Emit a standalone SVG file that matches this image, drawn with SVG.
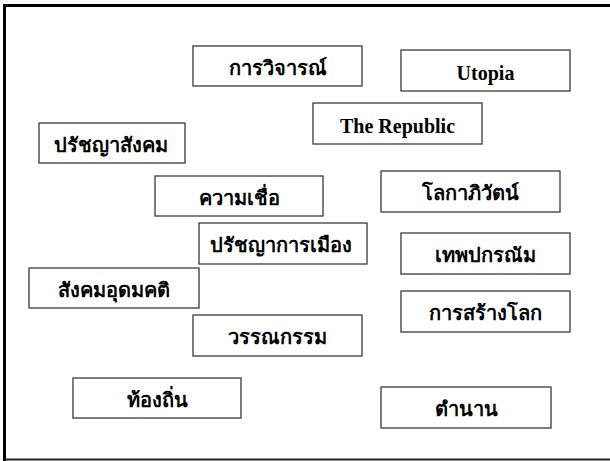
<svg xmlns="http://www.w3.org/2000/svg" width="610" height="461" viewBox="0 0 610 461">
<style>
.box{fill:#fff;stroke:#3a3a3a;stroke-width:1.3}
.th{font-family:"Liberation Serif","DejaVu Sans",serif;font-weight:bold;font-size:20px;fill:#000;text-anchor:middle}
.en{font-family:"Liberation Serif",serif;font-weight:bold;font-size:20px;fill:#000;text-anchor:middle}
</style>
<rect x="0" y="0" width="610" height="461" fill="#fff"/>
<g id="frame">
<path d="M4.5,461 V5.5 H612" fill="none" stroke="#000" stroke-width="3"/>
<path d="M4.5,459.5 H612" fill="none" stroke="#222" stroke-width="2"/>
</g>
<g id="connectors"></g>
<g id="n1"><rect class="box" x="193" y="46" width="169" height="40"/><text class="th" x="277.5" y="75">การวิจารณ์</text></g>
<g id="n2"><rect class="box" x="401" y="50" width="169" height="41"/><text class="en" x="485.5" y="80">Utopia</text></g>
<g id="n3"><rect class="box" x="313" y="103" width="169" height="41"/><text class="en" x="397.5" y="133">The Republic</text></g>
<g id="n4"><rect class="box" x="39" y="123" width="146" height="40"/><text class="th" x="111" y="152">ปรัชญาสังคม</text></g>
<g id="n5"><rect class="box" x="155" y="176" width="168" height="40"/><text class="th" x="239" y="205">ความเชื่อ</text></g>
<g id="n6"><rect class="box" x="381" y="171" width="179" height="41"/><text class="th" x="470.5" y="200">โลกาภิวัตน์</text></g>
<g id="n7"><rect class="box" x="199" y="223" width="168" height="41"/><text class="th" x="281" y="252">ปรัชญาการเมือง</text></g>
<g id="n8"><rect class="box" x="401" y="233" width="169" height="41"/><text class="th" x="485.5" y="262">เทพปกรณัม</text></g>
<g id="n9"><rect class="box" x="29" y="268" width="170" height="40"/><text class="th" x="114" y="297">สังคมอุดมคติ</text></g>
<g id="n10"><rect class="box" x="401" y="291" width="169" height="41"/><text class="th" x="485.5" y="320">การสร้างโลก</text></g>
<g id="n11"><rect class="box" x="193" y="315" width="169" height="41"/><text class="th" x="277.5" y="344">วรรณกรรม</text></g>
<g id="n12"><rect class="box" x="73" y="378" width="168" height="40"/><text class="th" x="157" y="407">ท้องถิ่น</text></g>
<g id="n13"><rect class="box" x="381" y="387" width="170" height="41"/><text class="th" x="466" y="416">ตำนาน</text></g>
</svg>
